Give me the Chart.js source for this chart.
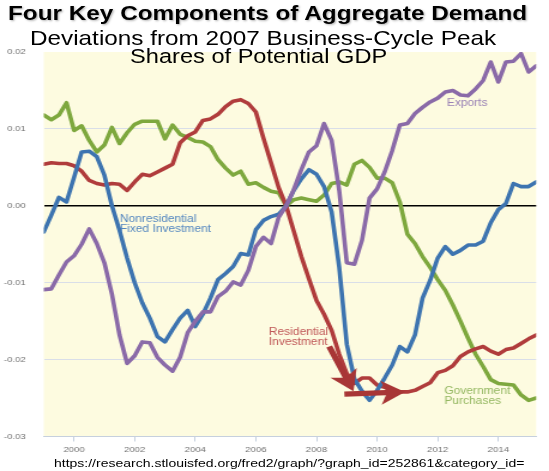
<!DOCTYPE html>
<html>
<head>
<meta charset="utf-8">
<script src="https://cdn.jsdelivr.net/npm/chart.js@4.4.1/dist/chart.umd.min.js"></script>
<style>
  html, body { margin: 0; padding: 0; background: #fff; }
  /* the source picture is stretched sideways, so the whole page is drawn narrow and widened */
  #wrap { position: relative; width: 458px; height: 471px; transform: scaleX(1.1987); transform-origin: 0 0;
          font-family: "Liberation Sans", Arial, sans-serif; }
  #wrap canvas { position: absolute; left: 0; top: 0; }
  .txt { position: absolute; white-space: nowrap; line-height: 1; color: #000; }
  #title { left: 6.7px; top: 2.8px; font-size: 20.3px; font-weight: bold; text-shadow: 1px 1px 2px rgba(0,0,0,.3); }
  #subtitle { left: 25px; top: 27.5px; font-size: 20.3px; }
  #shares { left: 108.5px; top: 46.5px; font-size: 19.7px; }
  #url { left: 45px; top: 457px; font-size: 11.7px; }
</style>
</head>
<body>
<div id="wrap">
  <canvas id="myChart" width="458" height="471"></canvas>
  <div class="txt" id="title">Four Key Components of Aggregate Demand</div>
  <div class="txt" id="subtitle">Deviations from 2007 Business-Cycle Peak</div>
  <div class="txt" id="shares">Shares of Potential GDP</div>
  <div class="txt" id="url">https://research.stlouisfed.org/fred2/graph/?graph_id=252861&amp;category_id=</div>
</div>
<script>
const quarters = [
    '1999Q1', '1999Q2', '1999Q3', '1999Q4', '2000Q1', '2000Q2', '2000Q3', '2000Q4',
    '2001Q1', '2001Q2', '2001Q3', '2001Q4', '2002Q1', '2002Q2', '2002Q3', '2002Q4',
    '2003Q1', '2003Q2', '2003Q3', '2003Q4', '2004Q1', '2004Q2', '2004Q3', '2004Q4',
    '2005Q1', '2005Q2', '2005Q3', '2005Q4', '2006Q1', '2006Q2', '2006Q3', '2006Q4',
    '2007Q1', '2007Q2', '2007Q3', '2007Q4', '2008Q1', '2008Q2', '2008Q3', '2008Q4',
    '2009Q1', '2009Q2', '2009Q3', '2009Q4', '2010Q1', '2010Q2', '2010Q3', '2010Q4',
    '2011Q1', '2011Q2', '2011Q3', '2011Q4', '2012Q1', '2012Q2', '2012Q3', '2012Q4',
    '2013Q1', '2013Q2', '2013Q3', '2013Q4', '2014Q1', '2014Q2', '2014Q3', '2014Q4',
    '2015Q1', '2015Q2'
]

const exportsDev = [
    -0.0109, -0.0108, -0.0090, -0.0073, -0.0065, -0.0050, -0.0030, -0.0049,
    -0.0074, -0.0115, -0.0168, -0.0205, -0.0195, -0.0177, -0.0178, -0.0197,
    -0.0207, -0.0215, -0.0197, -0.0165, -0.0150, -0.0138, -0.0138, -0.0118,
    -0.0111, -0.0099, -0.0103, -0.0084, -0.0053, -0.0041, -0.0049, -0.0015,
    0.0000, 0.0021, 0.0047, 0.0070, 0.0078, 0.0107, 0.0085, 0.0020,
    -0.0074, -0.0076, -0.0045, 0.0010, 0.0022, 0.0044, 0.0072, 0.0105,
    0.0107, 0.0120, 0.0128, 0.0135, 0.0140, 0.0148, 0.0150, 0.0144,
    0.0143, 0.0152, 0.0163, 0.0187, 0.0161, 0.0187, 0.0188, 0.0198,
    0.0174, 0.0182
]

const nonresDev = [
    -0.0034, -0.0012, 0.0011, 0.0005, 0.0037, 0.0070, 0.0071, 0.0064,
    0.0040, 0.0000, -0.0032, -0.0068, -0.0100, -0.0126, -0.0146, -0.0170,
    -0.0177, -0.0161, -0.0146, -0.0136, -0.0157, -0.0141, -0.0120, -0.0096,
    -0.0088, -0.0079, -0.0062, -0.0064, -0.0031, -0.0019, -0.0014, -0.0011,
    0.0000, 0.0020, 0.0035, 0.0047, 0.0041, 0.0025, -0.0008, -0.0080,
    -0.0180, -0.0225, -0.0241, -0.0253, -0.0240, -0.0224, -0.0207, -0.0183,
    -0.0190, -0.0168, -0.0120, -0.0097, -0.0068, -0.0053, -0.0063, -0.0058,
    -0.0051, -0.0051, -0.0046, -0.0022, -0.0005, 0.0003, 0.0029, 0.0025,
    0.0025, 0.0031
]

const resDev = [
    0.0054, 0.0056, 0.0055, 0.0055, 0.0052, 0.0045, 0.0033, 0.0029,
    0.0027, 0.0029, 0.0028, 0.0020, 0.0031, 0.0041, 0.0039, 0.0044,
    0.0049, 0.0054, 0.0082, 0.0091, 0.0096, 0.0111, 0.0113, 0.0119,
    0.0129, 0.0136, 0.0138, 0.0133, 0.0122, 0.0088, 0.0056, 0.0024,
    0.0000, -0.0033, -0.0066, -0.0095, -0.0123, -0.0141, -0.0162, -0.0193,
    -0.0218, -0.0231, -0.0224, -0.0224, -0.0233, -0.0236, -0.0239, -0.0242,
    -0.0242, -0.0240, -0.0235, -0.0230, -0.0217, -0.0214, -0.0208, -0.0196,
    -0.0190, -0.0186, -0.0183, -0.0189, -0.0193, -0.0187, -0.0185, -0.0179,
    -0.0173, -0.0168
]

const govDev = [
    0.0118, 0.0112, 0.0118, 0.0134, 0.0098, 0.0104, 0.0085, 0.0070,
    0.0079, 0.0102, 0.0081, 0.0095, 0.0106, 0.0110, 0.0110, 0.0110,
    0.0087, 0.0105, 0.0093, 0.0089, 0.0084, 0.0083, 0.0077, 0.0060,
    0.0049, 0.0040, 0.0045, 0.0028, 0.0030, 0.0024, 0.0019, 0.0017,
    0.0000, 0.0008, 0.0010, 0.0008, 0.0006, 0.0014, 0.0029, 0.0031,
    0.0027, 0.0054, 0.0059, 0.0050, 0.0036, 0.0036, 0.0030, 0.0005,
    -0.0037, -0.0049, -0.0066, -0.0080, -0.0096, -0.0110, -0.0129, -0.0150,
    -0.0172, -0.0193, -0.0209, -0.0226, -0.0231, -0.0232, -0.0233, -0.0246,
    -0.0253, -0.0250
]

const xTicks = [2000, 2002, 2004, 2006, 2008, 2010, 2012, 2014]
const yTicks = [-0.03, -0.02, -0.01, 0, 0.01, 0.02]

const family = '"Liberation Sans", Arial, sans-serif'

// '2003Q2' -> 2003.25
const toYear = (q) => parseInt(q.slice(0, 4)) + (parseInt(q.slice(5)) - 1) / 4
const toPoints = (vals) => vals.map((v, i) => ({x: toYear(quarters[i]), y: v}))

// series labels and the two arrows, placed in data units (year, share)
const notes = [
    {text: 'Nonresidential', x: 2001.51, y: -0.0017, color: '#5487c0'},
    {text: 'Fixed Investment', x: 2001.51, y: -0.0031, color: '#5487c0'},
    {text: 'Exports', x: 2012.30, y: 0.0133, color: '#9a82b6'},
    {text: 'Residential', x: 2006.43, y: -0.0164, color: '#c05858'},
    {text: 'Investment', x: 2006.43, y: -0.0178, color: '#c05858'},
    {text: 'Government', x: 2012.22, y: -0.0241, color: '#95b862'},
    {text: 'Purchases', x: 2012.22, y: -0.0254, color: '#95b862'}
]
const arrows = [
    {from: [2008.42, -0.0183], to: [2009.22, -0.0241]},
    {from: [2008.92, -0.0245], to: [2010.92, -0.0242]}
]

const extras = {
    id: 'extras',
    beforeDraw(chart) {
        const {ctx, chartArea} = chart
        ctx.save()
        ctx.fillStyle = '#fdfbe0'
        ctx.fillRect(chartArea.left, chartArea.top, chartArea.right - chartArea.left, chartArea.bottom - chartArea.top)
        ctx.restore()
    },
    afterDatasetsDraw(chart) {
        const {ctx} = chart
        const sx = chart.scales.x
        const sy = chart.scales.y
        ctx.save()
        ctx.font = '10px ' + family
        ctx.textBaseline = 'middle'
        ctx.textAlign = 'left'
        notes.forEach(n => {
            ctx.fillStyle = n.color
            ctx.fillText(n.text, sx.getPixelForValue(n.x), sy.getPixelForValue(n.y))
        })

        ctx.fillStyle = '#a83636'
        arrows.forEach(a => {
            const x1 = sx.getPixelForValue(a.from[0])
            const y1 = sy.getPixelForValue(a.from[1])
            const x2 = sx.getPixelForValue(a.to[0])
            const y2 = sy.getPixelForValue(a.to[1])
            const ang = Math.atan2(y2 - y1, x2 - x1)
            const len = Math.hypot(x2 - x1, y2 - y1)
            ctx.save()
            ctx.translate(x1, y1)
            ctx.rotate(ang)
            ctx.beginPath()
            ctx.moveTo(0, -2.6)
            ctx.lineTo(len - 16, -2.6)
            ctx.lineTo(len - 20, -12)
            ctx.lineTo(len, 0)
            ctx.lineTo(len - 20, 12)
            ctx.lineTo(len - 16, 2.6)
            ctx.lineTo(0, 2.6)
            ctx.closePath()
            ctx.fill()
            ctx.restore()
        })
        ctx.restore()
    }
}

const config = {
    type: 'line',
    data: {
        datasets: [
            {label: 'Exports', data: toPoints(exportsDev), borderColor: '#8a6aa8'},
            {label: 'Nonresidential Fixed Investment', data: toPoints(nonresDev), borderColor: '#3d74b0'},
            {label: 'Residential Investment', data: toPoints(resDev), borderColor: '#b03c3c'},
            {label: 'Government Purchases', data: toPoints(govDev), borderColor: '#7ea83e'}
        ]
    },
    options: {
        responsive: false,
        animation: false,
        layout: {padding: {top: 52, right: 10.7, bottom: 14.5, left: 0}},
        plugins: {legend: {display: false}, tooltip: {enabled: false}},
        elements: {
            point: {radius: 0},
            line: {borderWidth: 3.6, tension: 0, borderJoinStyle: 'round', borderCapStyle: 'round'}
        },
        scales: {
            x: {
                type: 'linear',
                min: 1999,
                max: 2015.25,
                afterBuildTicks: (a) => { a.ticks = xTicks.map(v => ({value: v})) },
                afterFit: (a) => { a.height = 20 },
                grid: {drawOnChartArea: false, drawTicks: true, tickLength: 5, color: '#c6d0de'},
                border: {display: true, color: '#c6d0de', width: 1},
                ticks: {padding: 3, color: '#707070', maxRotation: 0, font: {size: 8, family: family},
                        callback: (v) => String(v)}
            },
            y: {
                min: -0.03,
                max: 0.02,
                afterBuildTicks: (a) => { a.ticks = yTicks.map(v => ({value: v})) },
                afterFit: (a) => { a.width = 36.5 },
                grid: {
                    drawTicks: false,
                    color: (c) => {
                        const v = c.tick ? c.tick.value : null
                        if (v === 0) return '#000000'
                        if (v === 0.02 || v === -0.03) return 'rgba(0,0,0,0)'
                        return '#d9dee8'
                    },
                    lineWidth: (c) => (c.tick && c.tick.value === 0) ? 1.5 : 1
                },
                border: {display: false},
                ticks: {padding: 15, color: '#707070', font: {size: 8, family: family},
                        callback: (v) => Number(v).toFixed(2)}
            }
        }
    },
    plugins: [extras]
}

const myChart = new Chart(document.getElementById('myChart'), config)
</script>
</body>
</html>
